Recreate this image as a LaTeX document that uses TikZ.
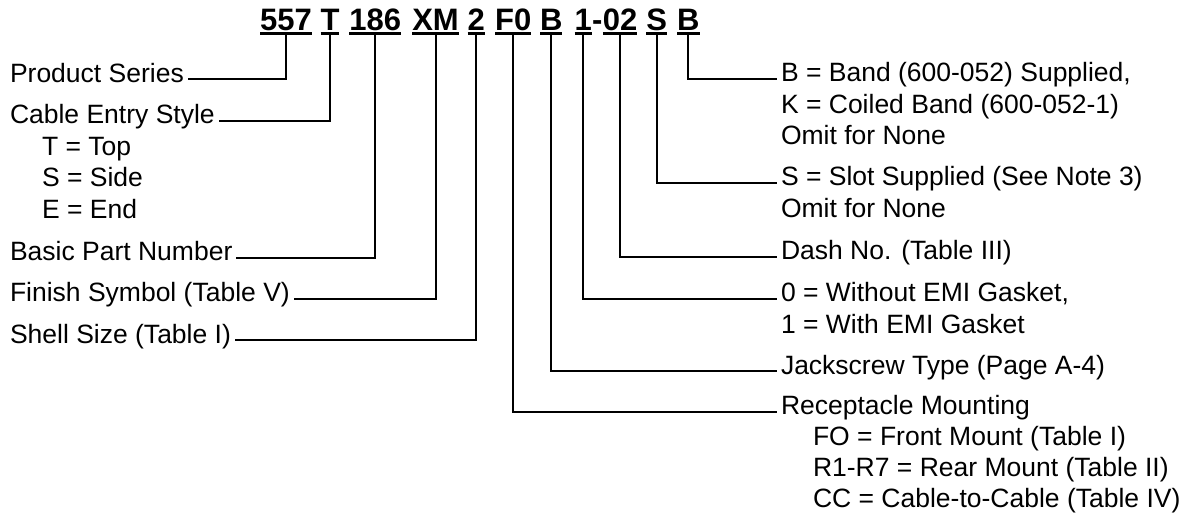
\documentclass[tikz,border=0pt]{standalone}
\usepackage{fontspec}
\setmainfont{Liberation Sans}
\usepackage{tikz}
\usetikzlibrary{positioning}

\begin{document}
\begin{tikzpicture}[
    x=1pt, y=-1pt,
    codebox/.style={
        inner sep=0pt,
        outer sep=0pt,
        text height=22.5pt,
        text depth=3.4pt,
        anchor=base,
        font=\fontsize{31}{37}\selectfont\bfseries
    },
    labelbox/.style={
        inner sep=0pt,
        outer sep=0pt,
        anchor=base west,
        font=\fontsize{26.5}{31.7}\selectfont
    },
    underbar/.style={
        line width=2.5pt
    },
    leader/.style={
        line width=2pt,
        shorten >=4pt
    }
]
\useasboundingbox (0,0) rectangle (1189,520);

% Part number
\node[codebox] (c557) at (286,30) {557};
\node[codebox] (cT) at (330,30) {T};
\node[codebox] (c186) at (375.3,30) {186};
\node[codebox] (cXM) at (435.5,30) {XM};
\node[codebox] (c2) at (476.3,30) {2};
\node[codebox] (cF0) at (513.3,30) {F0};
\node[codebox] (cB) at (551.3,30) {B};
\node[codebox] (c1) at (583.3,30) {1};
\node[codebox] (cdash) at (597.3,30) {-};
\node[codebox] (c02) at (620,30) {02};
\node[codebox] (cS) at (656.7,30) {S};
\node[codebox] (cBand) at (688.3,30) {B};

\foreach \c in {c557,cT,c186,cXM,c2,cF0,cB,c1,c02,cS,cBand}
    \draw[underbar] (\c.south west) -- (\c.south east);

% Left legend
\node[labelbox] (series) at (10,82) {Product Series};
\node[labelbox] (entry) at (10,123.5) {Cable Entry Style};
\node[labelbox] (top) at ([xshift=32pt, yshift=-31.7pt]entry.base west) {T = Top};
\node[labelbox] (side) at ([yshift=-31.7pt]top.base west) {S = Side};
\node[labelbox] (end) at ([yshift=-31.7pt]side.base west) {E = End};
\node[labelbox] (basic) at (10,260.3) {Basic Part Number};
\node[labelbox] (finish) at (10,301.8) {Finish Symbol (Table V)};
\node[labelbox] (shell) at (10,343) {Shell Size (Table I)};

% Right legend
\node[labelbox] (band) at (781,81.5) {B = Band (600-052) Supplied,};
\node[labelbox] (coiled) at ([yshift=-31.5pt]band.base west) {K = Coiled Band (600-052-1)};
\node[labelbox] (omitb) at ([yshift=-31.5pt]coiled.base west) {Omit for None};
\node[labelbox] (slot) at (781,185.5) {S = Slot Supplied (See Note 3)};
\node[labelbox] (omits) at ([yshift=-31.5pt]slot.base west) {Omit for None};
\node[labelbox] (dashno) at (781,259.5) {Dash No. (Table III)};
\node[labelbox] (gasket) at (781,301.5) {0 = Without EMI Gasket,};
\node[labelbox] (withemi) at ([yshift=-31.5pt]gasket.base west) {1 = With EMI Gasket};
\node[labelbox] (jack) at (781,374) {Jackscrew Type (Page A-4)};
\node[labelbox] (mount) at (781,414.5) {Receptacle Mounting};
\node[labelbox] (front) at ([xshift=32pt, yshift=-31pt]mount.base west) {FO = Front Mount (Table I)};
\node[labelbox] (rear) at ([yshift=-31pt]front.base west) {R1-R7 = Rear Mount (Table II)};
\node[labelbox] (cable) at ([yshift=-31pt]rear.base west) {CC = Cable-to-Cable (Table IV)};

% Leader lines
\draw[leader] (c557.south) |- (series.mid east);
\draw[leader] (cT.south) |- (entry.mid east);
\draw[leader] (c186.south) |- (basic.mid east);
\draw[leader] (cXM.south) |- (finish.mid east);
\draw[leader] (c2.south) |- (shell.mid east);
\draw[leader] (cF0.south) |- (mount.mid west);
\draw[leader] (cB.south) |- (jack.mid west);
\draw[leader] (c1.south) |- (gasket.mid west);
\draw[leader] (c02.south) |- (dashno.mid west);
\draw[leader] (cS.south) |- (slot.mid west);
\draw[leader] (cBand.south) |- (band.mid west);

\end{tikzpicture}
\end{document}
